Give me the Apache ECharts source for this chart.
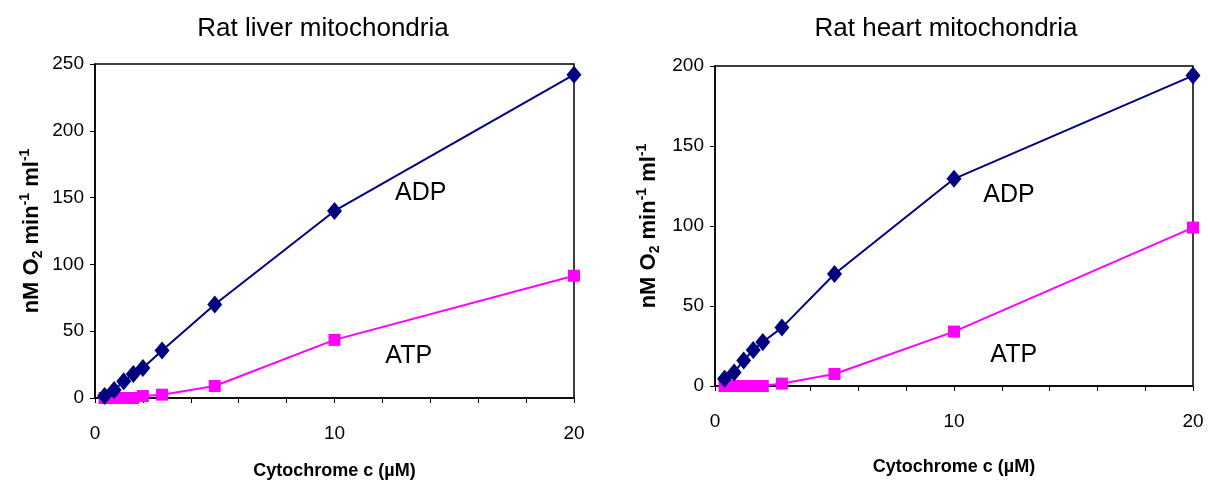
<!DOCTYPE html>
<html>
<head>
<meta charset="utf-8">
<script src="https://cdn.jsdelivr.net/npm/echarts@6/dist/echarts.min.js"></script>
<style>
  html, body { margin: 0; padding: 0; background: #fff; }
  #chart { width: 1208px; height: 484px; }
</style>
</head>
<body>
<div id="chart"></div>
<script>
// cytochrome c concentrations (uM), shared by both panels
const cytC = [0.4, 0.8, 1.2, 1.6, 2.0, 2.8, 5, 10, 20]

// rat liver
const liverADP = [1.5, 6, 12.5, 18, 22.5, 35.5, 70, 140, 242]
const liverATP = [0, 0, 0, 0, 1.5, 2.5, 9, 43.5, 91.5]

// rat heart
const heartADP = [4.5, 8.5, 16, 22.5, 27.5, 36.5, 70, 129.5, 194]
const heartATP = [0, 0, 0, 0, 0, 1.5, 7.5, 34, 99]

const titles = ['Rat liver mitochondria', 'Rat heart mitochondria']
const yMax = [250, 200]
const yStep = [50, 50]
const xTicks = [0, 10, 20]

// annotation anchors [x, y] in data units
const labelADP = [[13.6, 153], [12.3, 119]]
const labelATP = [[13.1, 31], [12.5, 19]]

const pair = (xs, ys) => xs.map((x, i) => [x, ys[i]])

const font = 'Arial, "Liberation Sans", sans-serif'
const navy = '#000080', pink = '#ff00ff'

const yName = '{b|nM O}{sub|2}{b| min}{sup|-1}{b| ml}{sup|-1}'
const yNameRich = {
  b: { fontSize: 22, fontWeight: 'bold', fontFamily: font, color: '#000', lineHeight: 27, verticalAlign: 'middle' },
  sub: { fontSize: 14, fontWeight: 'bold', fontFamily: font, color: '#000', lineHeight: 27, verticalAlign: 'bottom' },
  sup: { fontSize: 14, fontWeight: 'bold', fontFamily: font, color: '#000', lineHeight: 27, verticalAlign: 'top' },
}

const grids = [
  { left: 95, top: 64, width: 479, height: 334 },
  { left: 715, top: 66, width: 478, height: 320 },
]

const axisCommon = {
  axisLine: { lineStyle: { color: '#000', width: 1.5 } },
  axisTick: { lineStyle: { color: '#000' }, length: 5 },
  splitLine: { show: false },
  axisLabel: { color: '#000', fontSize: 19, fontFamily: font },
}

const annot = (text, coord) => ({
  symbol: 'circle',
  symbolSize: 1,
  itemStyle: { color: 'rgba(0,0,0,0)' },
  label: { show: true, position: 'inside', formatter: text, color: '#000', fontSize: 25, fontFamily: font },
  data: [{ coord }],
})

const chart = echarts.init(document.getElementById('chart'))

const option = {
  backgroundColor: '#fff',
  animation: false,
  title: titles.map((t, i) => ({
    text: t,
    left: i === 0 ? 318 : 941,
    top: 11,
    textAlign: 'center',
    textStyle: { fontSize: 26, fontWeight: 'normal', fontFamily: font, color: '#000' },
  })),
  grid: grids.map(g => ({
    ...g,
    show: true,
    borderColor: '#000',
    borderWidth: 1.5,
    outerBoundsMode: 'none',
    containLabel: false,
  })),
  xAxis: [0, 1].map(i => ({
    ...axisCommon,
    type: 'value',
    gridIndex: i,
    min: 0,
    max: 20,
    interval: 2,
    name: 'Cytochrome c (µM)',
    nameLocation: 'middle',
    nameGap: i === 0 ? 64 : 72,
    nameTextStyle: { fontSize: 18, fontWeight: 'bold', fontFamily: font, color: '#000' },
    axisLabel: {
      ...axisCommon.axisLabel,
      margin: 26,
      formatter: v => (xTicks.includes(v) ? String(v) : ''),
    },
  })),
  yAxis: [0, 1].map(i => ({
    ...axisCommon,
    type: 'value',
    gridIndex: i,
    min: 0,
    max: yMax[i],
    interval: yStep[i],
    name: yName,
    nameLocation: 'middle',
    nameGap: i === 0 ? 50 : 53,
    nameTextStyle: { rich: yNameRich },
    axisLabel: { ...axisCommon.axisLabel, margin: 11 },
  })),
  series: [
    [liverATP, liverADP],
    [heartATP, heartADP],
  ].flatMap(([atp, adp], i) => [
    {
      type: 'line',
      xAxisIndex: i,
      yAxisIndex: i,
      data: pair(cytC, atp),
      symbol: 'rect',
      symbolSize: 12,
      lineStyle: { color: pink, width: 2 },
      itemStyle: { color: pink },
      markPoint: annot('ATP', labelATP[i]),
    },
    {
      type: 'line',
      xAxisIndex: i,
      yAxisIndex: i,
      data: pair(cytC, adp),
      symbol: 'diamond',
      symbolSize: [15, 18],
      lineStyle: { color: navy, width: 2 },
      itemStyle: { color: navy },
      markPoint: annot('ADP', labelADP[i]),
    },
  ]),
}

chart.setOption(option)
</script>
</body>
</html>
